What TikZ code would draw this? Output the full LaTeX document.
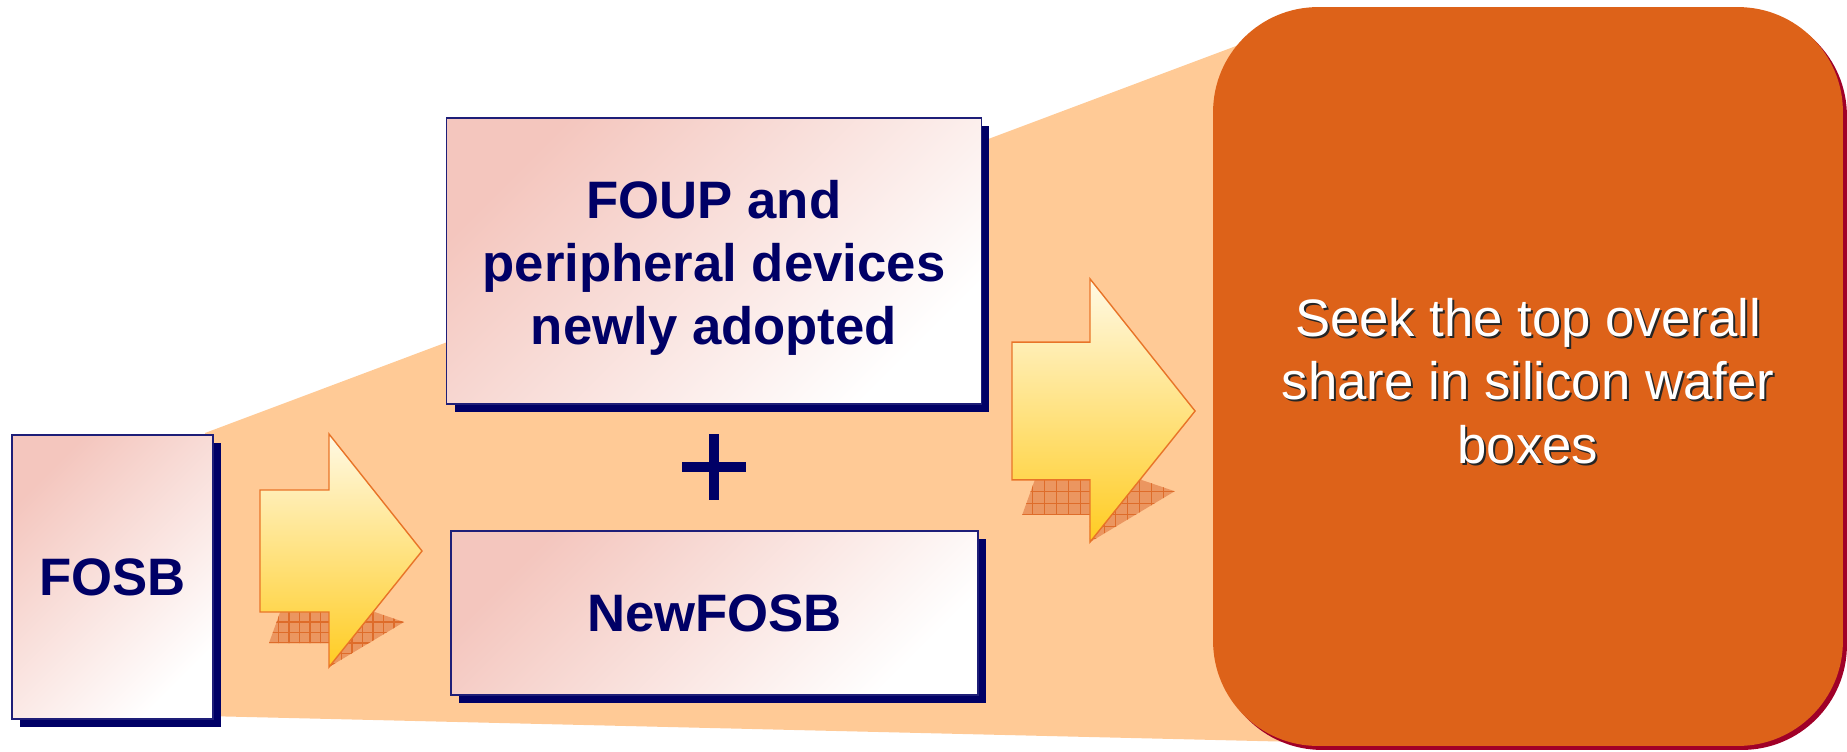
\documentclass[tikz,border=0pt]{standalone}
\usepackage{fontspec}
\setmainfont{Liberation Sans}
\usetikzlibrary{shadows}

\definecolor{navy}{RGB}{0,0,102}
\definecolor{boxline}{RGB}{30,30,120}
\definecolor{boxpink}{RGB}{244,198,190}
\definecolor{peach}{RGB}{255,202,150}
\definecolor{goalorange}{RGB}{221,98,25}
\definecolor{crimson}{RGB}{160,0,40}
\definecolor{arrowtop}{RGB}{255,249,228}
\definecolor{arrowbot}{RGB}{255,204,34}
\definecolor{arrowline}{RGB}{232,116,40}
\definecolor{hatchfill}{RGB}{235,150,96}
\definecolor{hatchline}{RGB}{222,108,42}

% блочная стрелка с тенью: #1,#2 -- левый край хвоста на высоте острия, #3 -- масштаб
\newcommand{\flowarrow}[3]{%
\begin{scope}[shift={(#1,#2)},scale=#3]
  \fill[hatchfill] (9,92) -- (22,56) -- (100,56) -- (144,71) -- (69,116) -- (69,92) -- cycle;
  \begin{scope}
    \clip (9,92) -- (22,56) -- (100,56) -- (144,71) -- (69,116) -- (69,92) -- cycle;
    \foreach \gx in {8,18.5,...,160} \draw[hatchline, line width=0.6pt] (\gx,40) -- (\gx,120);
    \foreach \gy in {39.5,50,...,120} \draw[hatchline, line width=0.6pt] (0,\gy) -- (160,\gy);
  \end{scope}
  \draw[arrowline, line width=0.8pt, top color=arrowtop, bottom color=arrowbot]
    (0,-61) -- (69,-61) -- (69,-117) -- (162,0) -- (69,116) -- (69,61) -- (0,61) -- cycle;
\end{scope}}

\begin{document}
\begin{tikzpicture}[x=0.02cm,y=-0.02cm]
\tikzstyle{mybox} = [draw=boxline, line width=0.8pt, top color=boxpink, bottom color=white, shading angle=45,
  text=navy, font=\bfseries\fontsize{30}{35.7}\selectfont, align=center,
  general shadow={fill=navy, shadow xshift=0.16cm, shadow yshift=-0.16cm}] % розовый прямоугольник с тенью
\tikzstyle{goalbox} = [fill=goalorange, rounded corners=2.1cm,
  general shadow={fill=crimson, shadow xshift=0.08cm, shadow yshift=-0.08cm}] % итоговый блок
\tikzstyle{goaltext} = [font=\fontsize{30}{36}\selectfont, align=center] % белый текст

\useasboundingbox (0,0) rectangle (1847,751);

% фон-трапеция
\fill[peach] (205,433) -- (1300,22) -- (1300,742) -- (205,716) -- cycle;

\node[goalbox, minimum width=12.6cm, minimum height=14.78cm] (goal) at (1528,376.5) {};
\node[goaltext, text=black!85] (goalshadow) at (1530,383) {Seek the top overall\\share in silicon wafer\\boxes};
\node[goaltext, text=white] (goaltxt) at (1528,381) {Seek the top overall\\share in silicon wafer\\boxes};

\node[mybox, minimum width=4.02cm, minimum height=5.68cm] (fosb) at (112.5,577) {FOSB};
\node[mybox, minimum width=10.7cm, minimum height=5.72cm] (foup) at (714,261) {\rule{0pt}{1.04cm}FOUP and\\peripheral devices\\newly adopted};
\node[mybox, minimum width=10.54cm, minimum height=3.28cm] (newfosb) at (714.5,613) {NewFOSB};

% плюс
\draw[navy, line width=5.6pt] (714,434) -- (714,500);
\draw[navy, line width=5.6pt] (682,467) -- (746,467);

\flowarrow{260}{551}{1}
\flowarrow{1012}{411}{1.13}
\end{tikzpicture}
\end{document}
